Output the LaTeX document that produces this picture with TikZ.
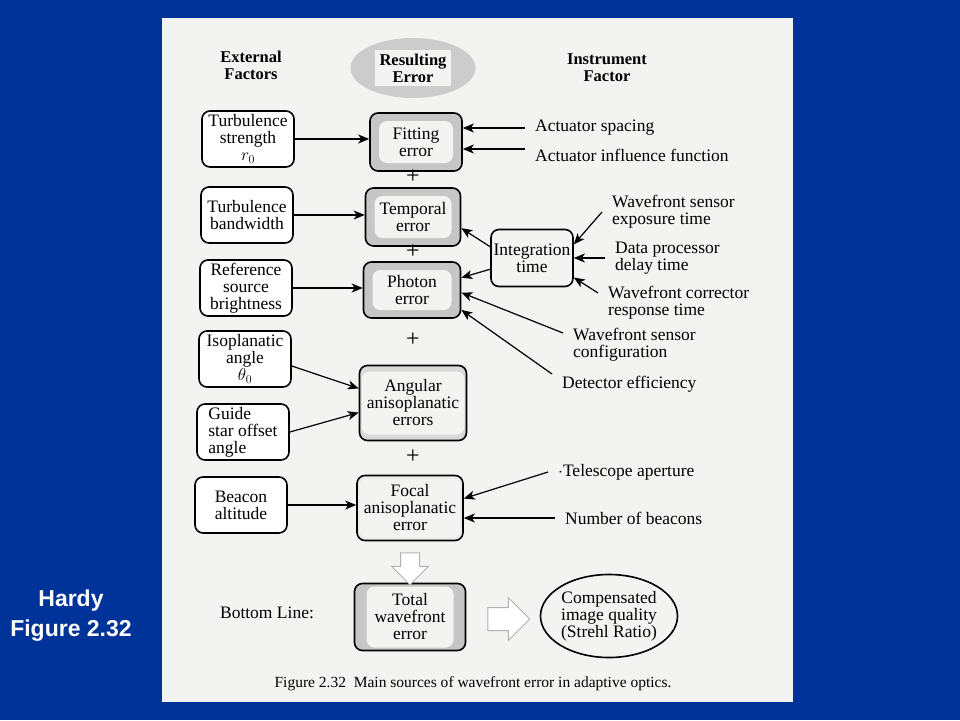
\documentclass[tikz,border=0pt]{standalone}
\usepackage{fontspec}
\setmainfont{Liberation Serif}
\newfontfamily\slidefont{Liberation Sans}
\usetikzlibrary{arrows.meta,shapes.geometric,shapes.arrows,positioning}
\definecolor{slideblue}{RGB}{0,51,153}
\definecolor{paper}{RGB}{243,243,241}
\tikzset{
	factor/.style={draw, line width=1.6pt, rounded corners=8pt, minimum width=92pt, minimum height=56pt, align=center, fill=white, inner ysep=1pt},
	errbox/.style n args={3}{draw, line width=1.6pt, rounded corners=8pt, align=center, fill=#1, inner ysep=1pt,
		path picture={\fill[paper] ([xshift=#2,yshift=-#3]path picture bounding box.north west) rectangle ([xshift=-#2,yshift=#3]path picture bounding box.south east);}},
	lbl/.style={anchor=west, align=left, inner xsep=10pt, inner ysep=2pt},
	head/.style={align=center, font=\fontsize{16.5}{17}\selectfont\bfseries},
	arr/.style={-{Stealth[length=11pt,width=9pt,inset=3pt]}, line width=1.2pt},
	hollow/.style={single arrow, draw=gray!60, line width=1pt, fill=white}
}
\begin{document}
\begin{tikzpicture}[x=1pt, y=-1pt, every node/.style={font=\fontsize{17.5}{17}\selectfont}]
	\fill[slideblue] (0,0) rectangle (960,720);
	\fill[paper] (162,18) rectangle (793,702);
	\useasboundingbox (0,0) rectangle (960,720);

	\node[white, align=center, font=\slidefont\bfseries\fontsize{23}{30}\selectfont] (hardy) at (71,616) {Hardy\\Figure 2.32};

	% column headers
	\node[head] (ext) at (251,65) {External\\Factors};
	\node[ellipse, fill=gray!40, minimum width=125pt, minimum height=60pt, align=center, font=\fontsize{16.5}{17}\selectfont\bfseries,
		path picture={\fill[paper] ([shift={(-38pt,-18pt)}]path picture bounding box.center) rectangle ([shift={(38pt,18pt)}]path picture bounding box.center);}]
		(reserr) at (413,68) {Resulting\\Error};
	\node[head] (inst) at (607,68) {Instrument\\Factor};

	% external factors
	\foreach \nm/\x/\y/\txt in {strength/248/139/{Turbulence\\strength\\$r_0$}, bandwidth/247/215/{Turbulence\\bandwidth},
		brightness/246/288/{Reference\\source\\brightness}, isoangle/245/359/{Isoplanatic\\angle\\$\theta_0$},
		altitude/241/505/{Beacon\\altitude}}
	{
		\node[factor] (\nm) at (\x,\y) {\txt};
	}
	\node[factor, align=left] (offset) at (243,432) {Guide\\star offset\\angle};

	% resulting errors
	\node[errbox={gray!45}{9pt}{8pt}, minimum width=92pt, minimum height=58pt] (fitting) at (416,142) {Fitting\\error};
	\node[errbox={gray!45}{9pt}{8pt}, minimum width=95pt, minimum height=58pt] (temporal) at (413,217) {Temporal\\error};
	\node[errbox={gray!45}{9pt}{8pt}, minimum width=97pt, minimum height=56pt] (photon) at (412,290) {Photon\\error};
	\node[errbox={gray!30}{2pt}{6pt}, minimum width=107pt, minimum height=75pt] (angular) at (413,403) {Angular\\anisoplanatic\\errors};
	\node[errbox={gray!15}{3pt}{3pt}, minimum width=106pt, minimum height=65pt] (focal) at (410,508) {Focal\\anisoplanatic\\error};
	\node[errbox={gray!45}{12pt}{3pt}, minimum width=111pt, minimum height=67pt] (total) at (410,617) {Total\\wavefront\\error};
	\foreach \y in {177,252,340,457}
		\node[font=\fontsize{24}{24}\selectfont, inner sep=0pt] (plus\y) at (413,\y) {+};

	\node[draw, line width=1.6pt, rounded corners=8pt, minimum width=82pt, minimum height=57pt, align=center, inner xsep=1pt] (integ) at (532,258) {Integration\\time};

	% instrument factors
	\node[lbl] (actspace) at (525,128) {Actuator spacing};
	\node[lbl] (actinfl) at (525,155) {Actuator influence function};
	\node[lbl] (exposure) at (602,212) {Wavefront sensor\\exposure time};
	\node[lbl] (delay) at (605,258) {Data processor\\delay time};
	\node[lbl] (response) at (598,303) {Wavefront corrector\\response time};
	\node[lbl] (config) at (563,345) {Wavefront sensor\\configuration};
	\node[lbl] (detector) at (552,384) {Detector efficiency};
	\node[lbl] (aperture) at (548,472) {$\cdot$Telescope aperture};
	\node[lbl] (beacons) at (555,518) {Number of beacons};

	% bottom line
	\node (bottom) at (267,613) {Bottom Line:};
	\node[hollow, shape border rotate=270, inner sep=9pt, minimum height=32pt, single arrow head extend=9pt] (down) at (410,564) {};
	\node[hollow, inner sep=11pt, minimum height=42pt, single arrow head extend=10pt] (right) at (503,619) {};
	\node[ellipse, draw, line width=1.6pt, minimum width=137pt, minimum height=83pt, align=center, inner sep=0pt] (strehl) at (609,616) {Compensated\\image quality\\(Strehl Ratio)};
	\node[font=\fontsize{15.5}{16}\selectfont] (caption) at (473,684) {Figure 2.32\enspace Main sources of wavefront error in adaptive optics.};

	% connectors
	\foreach \a/\b in {strength/fitting, bandwidth/temporal, brightness/photon, altitude/focal}
		\draw[arr] (\a.east) -- (\a.east -| \b.west);
	\draw[arr] ([yshift=-7pt]isoangle.east) -- (angular.165);
	\draw[arr] (offset.east) -- (angular.190);
	\draw[arr] (actspace.west) -- (actspace.west -| fitting.east);
	\draw[arr] ([yshift=6pt]actinfl.west) -- ([yshift=6pt]actinfl.west -| fitting.east);
	\draw[arr] (integ.165) -- (temporal.347);
	\draw[arr] (integ.195) -- (photon.14);
	\draw[arr] (exposure.west) -- (integ.18);
	\draw[arr] (delay.west) -- (integ.east);
	\draw[arr] ([yshift=10pt]response.west) -- (integ.-25);
	\draw[arr] ([yshift=12pt]config.west) -- (photon.-3);
	\draw[arr] ([yshift=10pt]detector.west) -- (photon.-22);
	\draw[arr] (aperture.west) -- (focal.10);
	\draw[arr] (beacons.west) -- (beacons.west -| focal.east);
\end{tikzpicture}
\end{document}
